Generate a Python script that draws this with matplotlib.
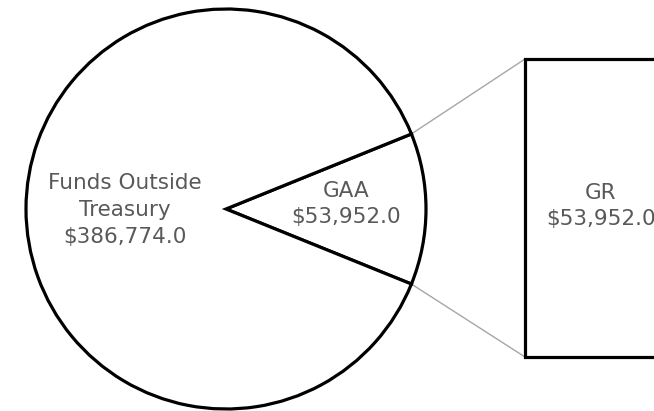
import numpy as np
import matplotlib
matplotlib.use("Agg")
from matplotlib import pyplot as plt

# data
pie_labels = ["GAA", "Funds Outside\nTreasury"]
pie_values = [53952.0, 386774.0]
bar_labels = ["GR"]
bar_values = [53952.0]

W, H = 654, 411
fig = plt.figure(figsize=(W / 100, H / 100), dpi=100)
ax = fig.add_axes([0, 0, 1, 1])

txt = "#595959"
fs = 15.5
cx, cy, r = 226, H - 209, 200
gaa_deg = 360 * pie_values[0] / sum(pie_values)
wedges, _ = ax.pie(pie_values, center=(cx, cy), radius=r, startangle=-gaa_deg / 2,
                   colors=["white", "white"], frame=True,
                   wedgeprops=dict(edgecolor="black", linewidth=2.3))
ax.set_xlim(0, W)
ax.set_ylim(0, H)
ax.set_aspect("equal")
ax.axis("off")

fmt = lambda v: f"${v:,.1f}"
ax.text(346, H - 204, f"{pie_labels[0]}\n{fmt(pie_values[0])}", ha="center", va="center",
        color=txt, fontsize=fs, linespacing=1.4)
ax.text(125, H - 210, f"{pie_labels[1]}\n{fmt(pie_values[1])}", ha="center", va="center",
        color=txt, fontsize=fs, linespacing=1.45)

# bar of pie
bx0, by0, by1 = 525, H - 357, H - 59
ax2 = fig.add_axes([bx0 / W, by0 / H, 0.4, (by1 - by0) / H])
ax2.bar([0], bar_values, width=1, align="edge", color="white", edgecolor="black",
        linewidth=2.3, clip_on=False)
ax2.set_xlim(0, 1)
ax2.set_ylim(0, sum(bar_values))
ax2.axis("off")
fig.text(601 / W, 1 - 206 / H, f"{bar_labels[0]}\n{fmt(bar_values[0])}", ha="center", va="center",
         color=txt, fontsize=fs, linespacing=1.4)

# connector lines
a = np.deg2rad(gaa_deg / 2)
ux, uy = cx + r * np.cos(a), cy + r * np.sin(a)
lx, ly = cx + r * np.cos(-a), cy + r * np.sin(-a)
ax.plot([ux, bx0], [uy, by1], color="#a6a6a6", lw=1, zorder=0)
ax.plot([lx, bx0], [ly, by0], color="#a6a6a6", lw=1, zorder=0)

fig.savefig("out.png", dpi=100)
